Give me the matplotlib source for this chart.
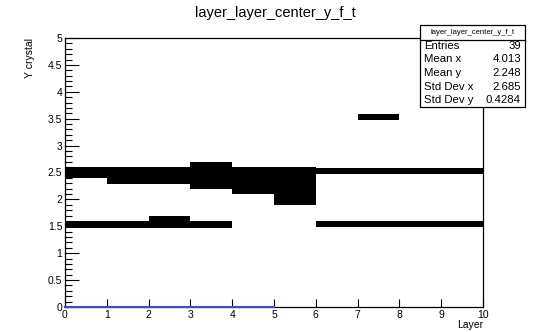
import matplotlib
matplotlib.use('Agg')
import matplotlib.pyplot as plt
from matplotlib.patches import Rectangle
from matplotlib.ticker import MultipleLocator, FormatStrFormatter

plt.rcParams['font.family'] = ['Liberation Sans', 'DejaVu Sans']

# bands of dense points: layer range and Y crystal range
band_x0 = [0.0, 1.0, 3.0, 4.0, 5.0, 6.0, 0.0, 2.0, 3.0, 6.0, 7.0]
band_x1 = [1.0, 3.0, 4.0, 5.0, 6.0, 10.0, 2.0, 3.0, 4.0, 10.0, 8.0]
band_y0 = [2.40, 2.29, 2.19, 2.10, 1.90, 2.48, 1.47, 1.47, 1.47, 1.48, 3.48]
band_y1 = [2.60, 2.60, 2.70, 2.61, 2.60, 2.58, 1.60, 1.70, 1.60, 1.59, 3.58]

# blue empty-bin line along y = 0
line_x = [0, 5]
line_y = [0, 0]

stat_names = ['Entries', 'Mean x', 'Mean y', 'Std Dev x', 'Std Dev y']
stat_values = ['39', '4.013', '2.248', '2.685', '0.4284']

W, H = 542, 332
fig = plt.figure(figsize=(W / 100, H / 100), dpi=100)
ax = fig.add_axes([65 / W, 1 - 307 / H, (483 - 65) / W, (307 - 38) / H])

widths = [b - a for a, b in zip(band_x0, band_x1)]
heights = [b - a for a, b in zip(band_y0, band_y1)]
ax.bar(band_x0, heights, width=widths, bottom=band_y0, align='edge',
       color='black', linewidth=0)
ax.plot(line_x, line_y, color='#3c4fc4', lw=1.5, clip_on=False, zorder=5)

ax.set_xlim(0, 10)
ax.set_ylim(0, 5)
ax.xaxis.set_major_locator(MultipleLocator(1))
ax.yaxis.set_major_locator(MultipleLocator(0.5))
ax.yaxis.set_minor_locator(MultipleLocator(0.1))
ax.yaxis.set_major_formatter(FormatStrFormatter('%g'))
ax.tick_params(axis='x', direction='in', length=6, width=0.8, labelsize=7.5, pad=2)
ax.tick_params(axis='y', which='major', direction='in', length=10, width=0.8,
               labelsize=7.5, pad=2)
ax.tick_params(axis='y', which='minor', direction='in', length=5, width=0.8)
for s in ax.spines.values():
    s.set_linewidth(0.9)

fig.text(275 / W, 1 - 13 / H, 'layer_layer_center_y_f_t', ha='center', va='center',
         fontsize=10.5)
fig.text(30 / W, 1 - 38 / H, 'Y crystal', rotation=90, ha='center', va='top',
         fontsize=7.5)
fig.text(483 / W, 1 - 325 / H, 'Layer', ha='right', va='center', fontsize=7.5)

# stats box
bx0, bx1, by0, by1, hy = 420, 525, 25, 107, 40
fig.patches.append(Rectangle((bx0 / W, 1 - by1 / H), (bx1 - bx0) / W, (by1 - by0) / H,
                             transform=fig.transFigure, facecolor='white',
                             edgecolor='black', lw=0.9, zorder=10))
fig.add_artist(plt.Line2D([bx0 / W, bx1 / W], [1 - hy / H, 1 - hy / H],
                          transform=fig.transFigure, color='black', lw=0.9, zorder=11))
fig.text((bx0 + bx1) / 2 / W, 1 - 32.5 / H, 'layer_layer_center_y_f_t', ha='center',
         va='center', fontsize=5.5, zorder=12)
for i, (n, v) in enumerate(zip(stat_names, stat_values)):
    yy = 1 - (46 + 13.5 * i) / H
    fig.text(424 / W, yy, n, ha='left', va='center', fontsize=8.2, zorder=12)
    fig.text(521 / W, yy, v, ha='right', va='center', fontsize=8.2, zorder=12)

fig.savefig('out.png', dpi=100)
